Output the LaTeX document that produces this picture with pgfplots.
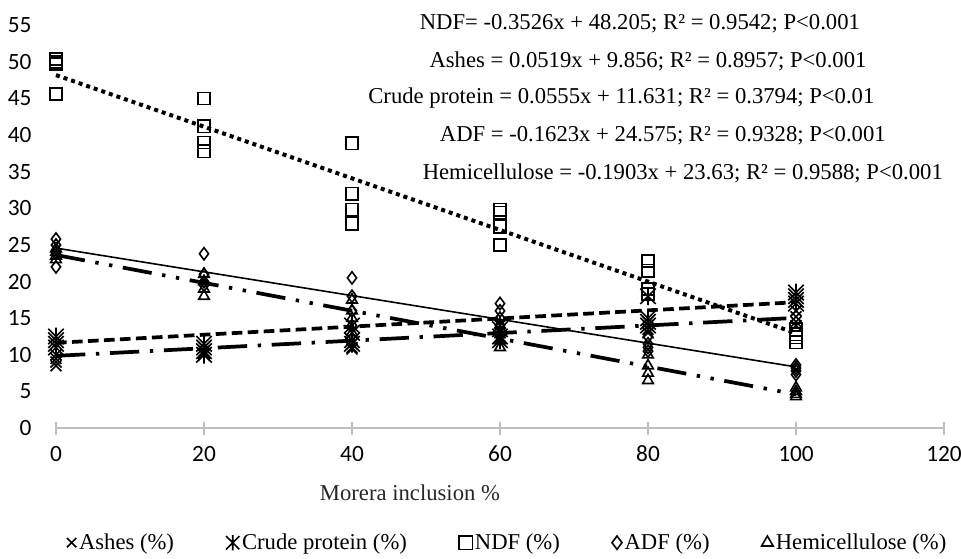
\documentclass[border=0pt]{standalone}
\usepackage{fontspec}
\setmainfont{Liberation Serif}
\newfontfamily\carlito{Carlito}
\usepackage{pgfplots}
\pgfplotsset{compat=1.18}
\pgfdeclareplotmark{xbar}{%
  \pgfpathmoveto{\pgfqpoint{-\pgfplotmarksize}{-\pgfplotmarksize}}%
  \pgfpathlineto{\pgfqpoint{\pgfplotmarksize}{\pgfplotmarksize}}%
  \pgfpathmoveto{\pgfqpoint{-\pgfplotmarksize}{\pgfplotmarksize}}%
  \pgfpathlineto{\pgfqpoint{\pgfplotmarksize}{-\pgfplotmarksize}}%
  \pgfpathmoveto{\pgfqpoint{0pt}{-1.15\pgfplotmarksize}}%
  \pgfpathlineto{\pgfqpoint{0pt}{1.15\pgfplotmarksize}}%
  \pgfusepathqstroke}
\definecolor{axgray}{RGB}{191,191,191}
\begin{document}
\begin{tikzpicture}
\path[use as bounding box] (-42pt,-97.5pt) rectangle (678.75pt,321pt);
\begin{axis}[
  at={(0,0)}, anchor=south west,
  scale only axis, width=666pt, height=302pt,
  xmin=0, xmax=120, ymin=0, ymax=55,
  xtick={0,20,...,120}, ytick={0,5,...,55},
  axis x line*=bottom, axis y line*=left,
  x axis line style={draw=axgray, line width=1.1pt, -},
  y axis line style={draw=none},
  xtick style={draw=axgray, line width=1.1pt},
  ytick style={draw=none},
  tick align=center, major tick length=9.75pt,
  /pgf/number format/assume math mode=true,
  ticklabel style={font=\carlito\fontsize{17.5}{20}\selectfont, text=black},
  xticklabel style={yshift=-5pt},
  yticklabel style={xshift=-10pt},
  xlabel={Morera inclusion \%},
  xlabel style={at={(axis description cs:0.3986,0)}, anchor=center, yshift=-48.75pt, font=\fontsize{17}{20}\selectfont, text=black!85},
  clip=false,
  legend columns=5,
  legend style={draw=none, fill=none, at={(axis description cs:0.509,0)}, anchor=center, yshift=-86pt,
    font=\fontsize{17}{20}\selectfont, /tikz/every even column/.append style={column sep=37pt}},
  legend image code/.code={\pgfplotsset{mark size=5pt}\draw[#1, mark size=5pt] plot coordinates {(0.2cm,0cm)};},
  mark options={solid, line width=1.2pt, fill=none},
]
% scatter data
\addplot[only marks, mark=x, mark size=5.8pt, black] coordinates {
 (0,10.0)(0,9.5)(0,9.0)(0,8.5)
 (20,11.0)(20,10.5)(20,10.0)(20,10.2)
 (40,12.0)(40,11.5)(40,11.0)(40,10.8)
 (60,13.0)(60,12.5)(60,12.0)(60,12.3)
 (80,14.5)(80,14.0)(80,13.5)(80,13.0)
 (100,16.0)(100,15.2)(100,14.5)(100,14.0)};
\addlegendentry{Ashes (\%)}
\addplot[only marks, mark=xbar, mark size=5.8pt, black] coordinates {
 (0,12.5)(0,12.0)(0,11.5)(0,11.0)
 (20,11.5)(20,11.0)(20,10.5)(20,10.0)
 (40,14.0)(40,13.0)(40,12.0)(40,11.5)
 (60,14.0)(60,13.5)(60,12.5)(60,12.0)
 (80,18.0)(80,15.0)(80,14.5)(80,14.0)
 (100,18.5)(100,18.0)(100,17.5)(100,17.0)};
\addlegendentry{Crude protein (\%)}
\addplot[only marks, mark=square, mark size=4.6pt, black] coordinates {
 (0,50.4)(0,50.0)(0,49.7)(0,45.6)
 (20,45.0)(20,41.2)(20,39.0)(20,37.8)
 (40,38.9)(40,32.0)(40,29.8)(40,27.9)
 (60,29.8)(60,29.4)(60,27.5)(60,25.0)
 (80,22.8)(80,21.5)(80,19.0)(80,18.3)
 (100,13.5)(100,12.8)(100,12.4)(100,11.7)};
\addlegendentry{NDF (\%)}
\addplot[only marks, mark=diamond, mark size=4.6pt, black] coordinates {
 (0,25.8)(0,25.0)(0,24.0)(0,22.0)
 (20,23.8)(20,21.0)(20,20.0)(20,19.5)
 (40,20.5)(40,18.0)(40,16.0)(40,14.0)
 (60,17.0)(60,16.0)(60,15.0)(60,14.0)
 (80,12.5)(80,11.5)(80,11.0)(80,10.5)
 (100,8.6)(100,8.2)(100,7.8)(100,7.3)};
\addlegendentry{ADF (\%)}
\addplot[only marks, mark=triangle, mark size=4.6pt, black] coordinates {
 (0,24.5)(0,24.0)(0,23.5)(0,23.0)
 (20,21.0)(20,20.0)(20,19.0)(20,18.0)
 (40,17.5)(40,16.0)(40,15.0)(40,13.0)
 (60,14.0)(60,13.0)(60,12.0)(60,11.0)
 (80,10.0)(80,8.5)(80,7.5)(80,6.5)
 (100,5.5)(100,5.0)(100,4.6)(100,4.3)};
\addlegendentry{Hemicellulose (\%)}
% trend lines
\addplot[forget plot, black, line width=3pt, dash pattern=on 3pt off 3pt] coordinates {(0,48.205)(100,12.945)};
\addplot[forget plot, black, line width=2.8pt, dash pattern=on 22pt off 8pt on 2.5pt off 8pt] coordinates {(0,9.856)(100,15.046)};
\addplot[forget plot, black, line width=2.8pt, dash pattern=on 8pt off 4pt] coordinates {(0,11.631)(100,17.181)};
\addplot[forget plot, black, line width=1.2pt] coordinates {(0,24.575)(100,8.345)};
\addplot[forget plot, black, line width=2.8pt, dash pattern=on 22pt off 8pt on 2.5pt off 8pt on 2.5pt off 8pt] coordinates {(0,23.63)(100,4.6)};
% equations
\begin{scope}[every node/.style={font=\fontsize{17}{20}\selectfont, anchor=center, inner sep=0pt}]
\node at (axis cs:78.9,55.2) {NDF= -0.3526x + 48.205; R² = 0.9542; P<0.001};
\node at (axis cs:80.0,50.1) {Ashes = 0.0519x + 9.856; R² = 0.8957; P<0.001};
\node at (axis cs:76.4,45.1) {Crude protein = 0.0555x + 11.631; R² = 0.3794; P<0.01};
\node at (axis cs:82.0,39.9) {ADF = -0.1623x + 24.575; R² = 0.9328; P<0.001};
\node at (axis cs:84.7,34.8) {Hemicellulose = -0.1903x + 23.63; R² = 0.9588; P<0.001};
\end{scope}
\end{axis}
\end{tikzpicture}
\end{document}
